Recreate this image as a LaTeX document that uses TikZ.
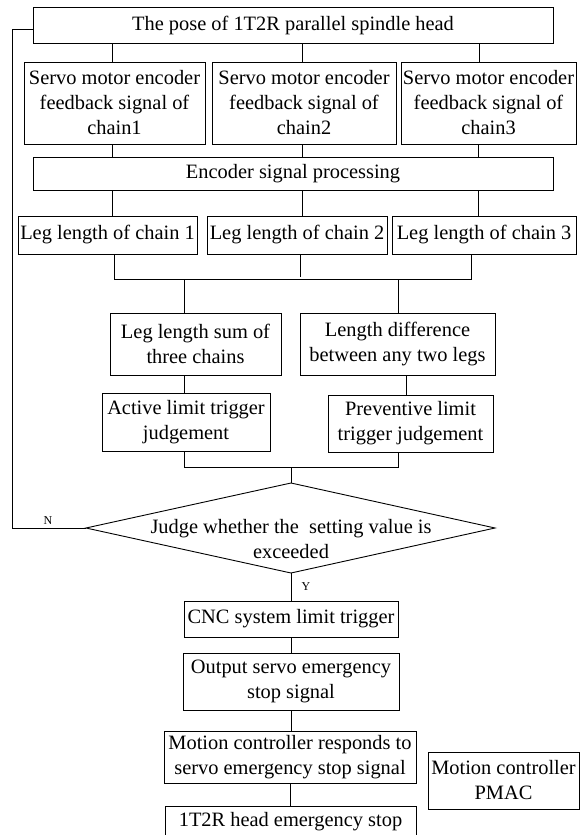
\documentclass[tikz,border=0pt]{standalone}
\usepackage{fontspec}
\setmainfont{Liberation Serif}
\begin{document}
\begin{tikzpicture}[x=1pt,y=-1pt,line width=0.9pt,
  box/.style={draw, inner sep=0pt, align=center, font=\fontsize{20.4}{25}\selectfont},
  dtxt/.style={inner sep=0pt, align=center, font=\fontsize{20.4}{25}\selectfont},
  lbl/.style={inner sep=0pt, font=\fontsize{12}{14}\selectfont}]
\path[use as bounding box] (0,0) rectangle (588,835);
\clip (0,0) rectangle (588,835);
% boxes
\node[box, minimum width=520pt, minimum height=36pt] (top) at (293,25) {The pose of 1T2R parallel spindle head};
\node[box, minimum width=181pt, minimum height=82pt] (s1) at (114.5,103) {Servo motor encoder\\feedback signal of\\chain1};
\node[box, minimum width=184pt, minimum height=82pt] (s2) at (304,103) {Servo motor encoder\\feedback signal of\\chain2};
\node[box, minimum width=175pt, minimum height=82pt] (s3) at (488.5,103) {Servo motor encoder\\feedback signal of\\chain3};
\node[box, minimum width=520pt, minimum height=33pt] (enc) at (293,173.5) {Encoder signal processing};
\node[box, minimum width=179pt, minimum height=38pt] (l1) at (107.5,235) {Leg length of chain 1};
\node[box, minimum width=180pt, minimum height=38pt] (l2) at (297,235) {Leg length of chain 2};
\node[box, minimum width=184pt, minimum height=38pt] (l3) at (484,235) {Leg length of chain 3};
\node[box, minimum width=171pt, minimum height=62pt] (sum) at (195.5,344) {Leg length sum of\\three chains};
\node[box, minimum width=195pt, minimum height=62pt] (diff) at (397.5,344) {Length difference\\between any two legs};
\node[box, minimum width=168pt, minimum height=58pt] (act) at (186,422) {Active limit trigger\\judgement};
\node[box, minimum width=165pt, minimum height=57pt] (prev) at (410.5,423.5) {Preventive limit\\trigger judgement};
% diamond
\coordinate (dt) at (291,483);
\coordinate (dl) at (86,528);
\coordinate (dr) at (495,528);
\coordinate (db) at (291,573);
\draw (dt) -- (dr) -- (db) -- (dl) -- cycle;
\node[dtxt] (dtext) at (291,539) {Judge whether the~ setting value is\\exceeded};
\node[box, minimum width=214pt, minimum height=36pt] (cnc) at (291,619) {CNC system limit trigger};
\node[box, minimum width=216pt, minimum height=57pt] (out) at (291,681.5) {Output servo emergency\\stop signal};
\node[box, minimum width=252pt, minimum height=52pt] (mc) at (290,757) {Motion controller responds to\\servo emergency stop signal};
\node[box, minimum width=251pt, minimum height=44pt, anchor=north] (stop) at (290.5,806) {};
\node[dtxt] (stoptxt) at (290.5,822) {1T2R head emergency stop};
\node[box, minimum width=151pt, minimum height=57pt] (pmac) at (503.5,780.5) {Motion controller\\PMAC};
% connectors
\draw (top.south -| 112,0) -- (s1.north -| 112,0);
\draw (top.south -| 302,0) -- (s2.north -| 302,0);
\draw (top.south -| 479,0) -- (s3.north -| 479,0);
\draw (s1.south -| 112,0) -- (enc.north -| 112,0);
\draw (s2.south -| 302,0) -- (enc.north -| 302,0);
\draw (s3.south -| 478,0) -- (enc.north -| 478,0);
\draw (enc.south -| 112,0) -- (l1.north -| 112,0);
\draw (enc.south -| 302,0) -- (l2.north -| 302,0);
\draw (enc.south -| 478,0) -- (l3.north -| 478,0);
\coordinate (jl) at (114,279);
\coordinate (jr) at (471,279);
\draw (l1.south -| jl) -- (jl) -- (jr) -- (l3.south -| jr);
\draw (l2.south -| 300,0) -- (300,277);
\draw (184,279) -- (sum.north -| 184,0);
\draw (398,279) -- (diff.north -| 398,0);
\draw (sum.south -| 184,0) -- (act.north -| 184,0);
\draw (diff.south -| 406,0) -- (prev.north -| 406,0);
\coordinate (ml) at (184,467);
\coordinate (mr) at (398,467);
\draw (act.south -| ml) -- (ml) -- (mr) -- (prev.south -| mr);
\draw (291,467) -- (dt);
\draw (db) -- (cnc.north -| db);
\draw (cnc.south -| 291,0) -- (out.north -| 291,0);
\draw (out.south -| 291,0) -- (mc.north -| 291,0);
\draw (mc.south -| 290,0) -- (stop.north -| 290,0);
% feedback
\coordinate (fb) at (12,29);
\draw (dl) -| (fb) -- (fb -| top.west);
\node[lbl, anchor=south] (nl) at (48,525) {N};
\node[lbl] (yl) at (306,587) {Y};
\end{tikzpicture}
\end{document}
